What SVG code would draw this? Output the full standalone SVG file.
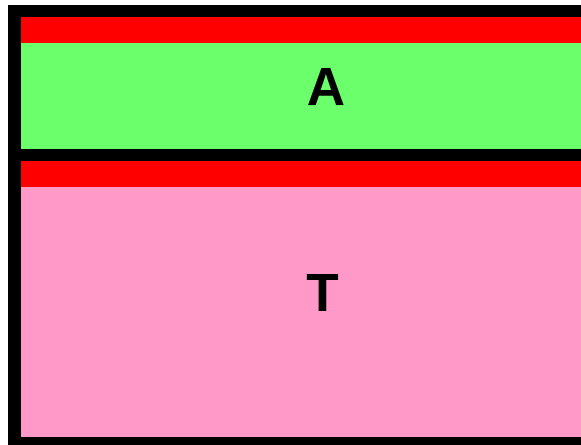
<svg xmlns="http://www.w3.org/2000/svg" width="581" height="445" viewBox="0 0 581 445">
<style>
.lbl{font-family:"Liberation Sans",Arial,sans-serif;font-weight:bold;font-size:53px;fill:#000;text-anchor:middle}
.hdr{fill:#ff0000}
</style>
<rect x="0" y="0" width="581" height="445" fill="#ffffff"/>
<rect x="8" y="5" width="600" height="460" fill="#000000"/>
<g id="node-A">
<rect class="hdr" x="21" y="17" width="560" height="26"/>
<rect x="21" y="43" width="560" height="106" fill="#6bff6b"/>
<text class="lbl" x="326" y="105">A</text>
</g>
<g id="node-T">
<rect class="hdr" x="21" y="161" width="560" height="26"/>
<rect x="21" y="187" width="560" height="250" fill="#ff99c8"/>
<text class="lbl" x="322.5" y="311">T</text>
</g>
<g id="connectors"></g>
</svg>
